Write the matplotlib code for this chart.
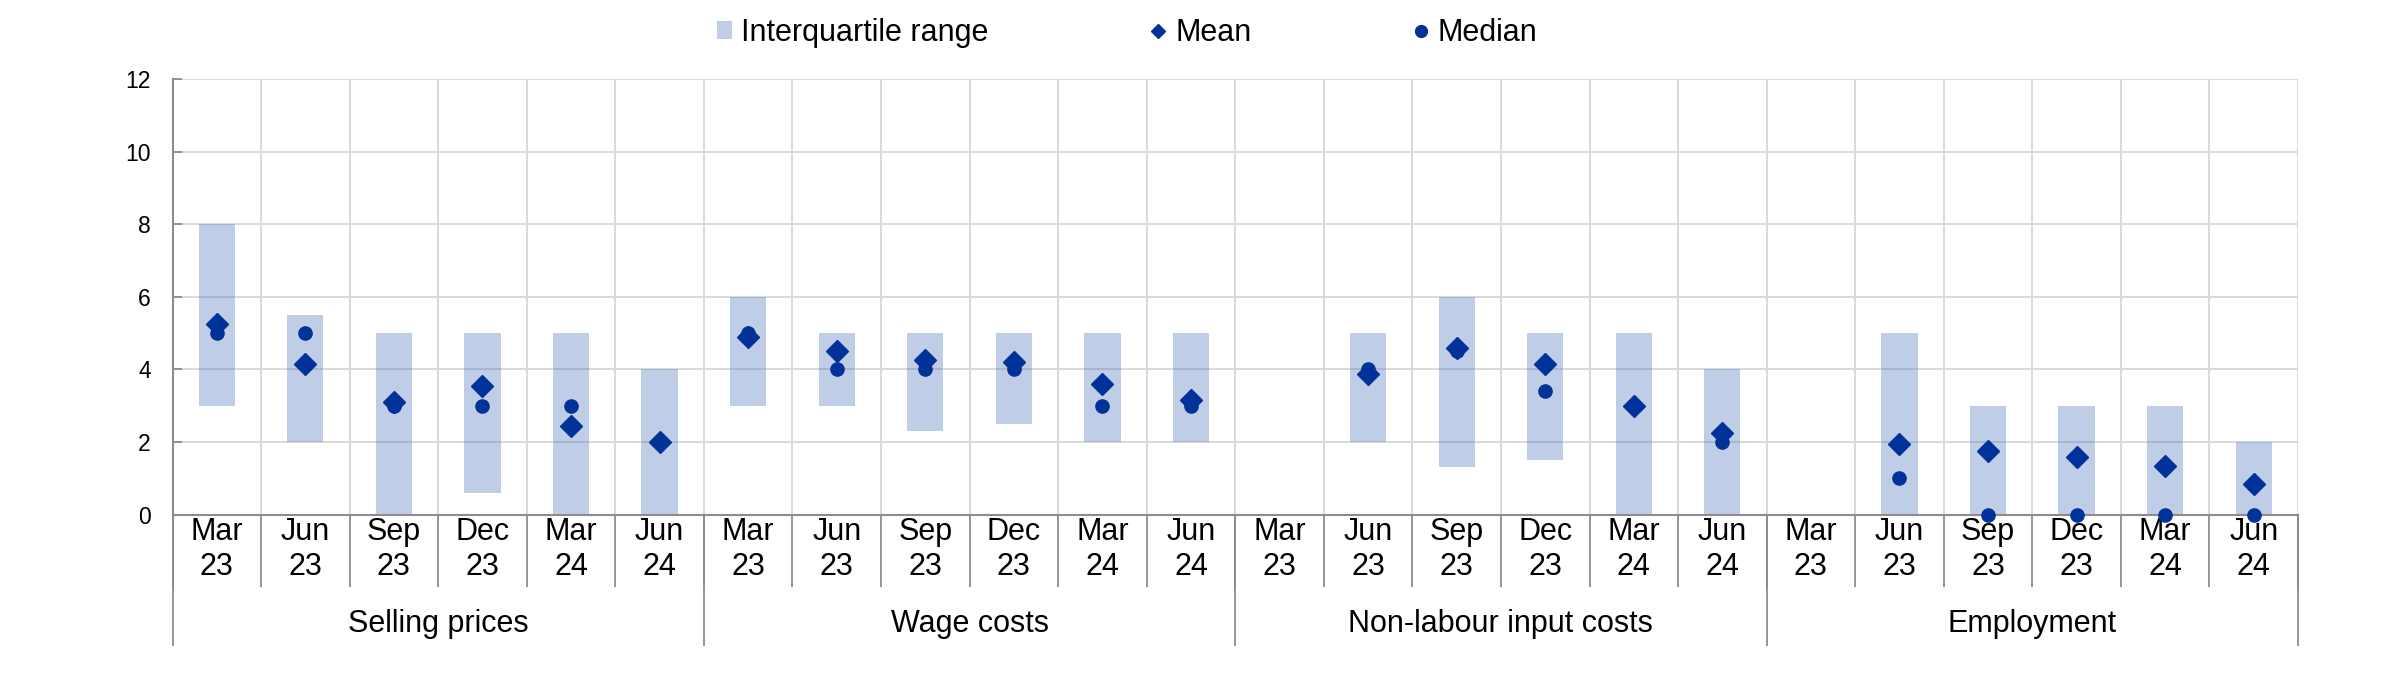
import numpy as np
import matplotlib.pyplot as plt
from matplotlib.patches import Patch
from matplotlib.lines import Line2D

plt.rcParams['font.family'] = ['Liberation Sans', 'DejaVu Sans']

nan = np.nan

groups = ['Selling prices', 'Wage costs', 'Non-labour input costs', 'Employment']
periods = ['Mar\n23', 'Jun\n23', 'Sep\n23', 'Dec\n23', 'Mar\n24', 'Jun\n24']

# interquartile range, mean and median per group (6 survey rounds each)
sell_low = [3, 2, 0, 0.6, 0, 0]
sell_high = [8, 5.5, 5, 5, 5, 4]
sell_mean = [5.25, 4.15, 3.1, 3.55, 2.45, 2.0]
sell_median = [5, 5, 3, 3, 3, 2]

wage_low = [3, 3, 2.3, 2.5, 2, 2]
wage_high = [6, 5, 5, 5, 5, 5]
wage_mean = [4.9, 4.5, 4.25, 4.2, 3.6, 3.15]
wage_median = [5, 4, 4, 4, 3, 3]

input_low = [nan, 2, 1.3, 1.5, 0, 0]
input_high = [nan, 5, 6, 5, 5, 4]
input_mean = [nan, 3.88, 4.6, 4.15, 3.0, 2.25]
input_median = [nan, 4, 4.5, 3.4, 3, 2]

empl_low = [nan, 0, 0, 0, 0, 0]
empl_high = [nan, 5, 3, 3, 3, 2]
empl_mean = [nan, 1.95, 1.75, 1.6, 1.35, 0.85]
empl_median = [nan, 1, 0, 0, 0, 0]

low = np.array(sell_low + wage_low + input_low + empl_low, dtype=float)
high = np.array(sell_high + wage_high + input_high + empl_high, dtype=float)
mean = np.array(sell_mean + wage_mean + input_mean + empl_mean, dtype=float)
median = np.array(sell_median + wage_median + input_median + empl_median, dtype=float)

n = len(low)
x = np.arange(n) + 0.5

blue = '#003299'
bar_col = '#4b70b8'
grid_col = '#d9d9d9'
axis_col = '#8c8c8c'

W, H = 2389, 677
fig = plt.figure(figsize=(W / 100, H / 100), dpi=100)
ax = fig.add_axes([172.5 / W, 1 - 514.6 / H, (2298 - 172.5) / W, (514.6 - 79) / H])

ax.bar(x, high - low, bottom=low, width=0.41, color=bar_col, alpha=0.35, linewidth=0, zorder=2)
ax.plot(x, median, 'o', color=blue, ms=9.5, ls='none', clip_on=False, zorder=3)
ax.plot(x, mean, 'D', color=blue, ms=11, ls='none', clip_on=False, zorder=4)

ax.set_xlim(0, n)
ax.set_ylim(0, 12)
ax.set_yticks(np.arange(0, 13, 2))

ax.grid(True, color=grid_col, lw=1.4, zorder=0)
ax.set_axisbelow(True)
for s in ['top', 'right']:
    ax.spines[s].set_visible(False)
for s in ['left', 'bottom']:
    ax.spines[s].set_color(axis_col)
    ax.spines[s].set_linewidth(1.5)

ax.tick_params(axis='y', direction='in', length=6.7, width=1.3, color=axis_col,
               pad=15.5, labelsize=16.5)

# category boundaries (grid + separators below the axis)
ax.set_xticks(np.arange(0, n + 1))
ax.set_xticklabels([''] * (n + 1))
ax.tick_params(axis='x', which='major', direction='out', length=52, width=1.3, color=axis_col)
ax.set_xticks(x, minor=True)
ax.set_xticklabels(periods * len(groups), minor=True)
ax.tick_params(axis='x', which='minor', length=0, pad=2, labelsize=22)

# group labels
sec = ax.secondary_xaxis('bottom')
sec.spines['bottom'].set_visible(False)
sec.set_xticks(np.arange(0, n + 1, 6))
sec.set_xticklabels([''] * 5)
sec.tick_params(axis='x', which='major', direction='out', length=94, width=1.3, color=axis_col)
sec.set_xticks(np.arange(3, n, 6), minor=True)
sec.set_xticklabels(groups, minor=True)
sec.tick_params(axis='x', which='minor', length=0, pad=68, labelsize=22)

handles = [
    Patch(facecolor='#c0cde6', edgecolor='none'),
    Line2D([], [], marker='D', color=blue, ls='none', ms=7),
    Line2D([], [], marker='o', color=blue, ls='none', ms=8.5),
]
fig.legend(handles, ['Interquartile range', 'Mean', 'Median'],
           loc='center left', bbox_to_anchor=(717 / W, 1 - 33 / H), ncol=3,
           frameon=False, fontsize=22, handlelength=0.5, handleheight=0.5,
           handletextpad=0.3, columnspacing=5.3, borderpad=0, borderaxespad=0)

fig.savefig('out.png', dpi=100)
